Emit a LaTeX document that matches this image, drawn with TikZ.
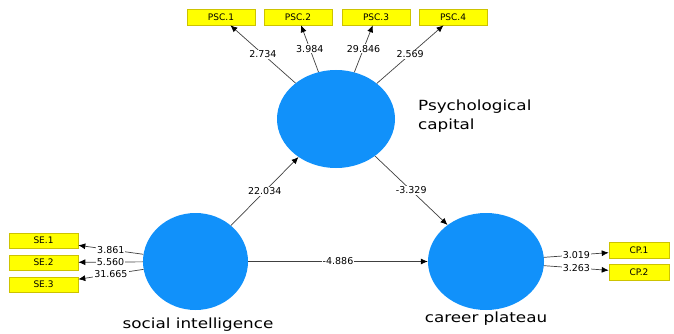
\documentclass[tikz,border=0pt]{standalone}
\usepackage{graphicx}
\usepackage{fontspec}
\setmainfont{DejaVu Sans}
\usetikzlibrary{positioning,arrows.meta,shapes.geometric}
\definecolor{lvblue}{RGB}{17,145,250}
\definecolor{mvyellow}{RGB}{255,255,0}
\definecolor{mvborder}{RGB}{205,195,0}
\newcommand{\widen}[1]{\scalebox{1.2}[1]{#1}}

\begin{document}
\begin{tikzpicture}[x=1pt,y=-1pt,on grid,
	lv/.style={ellipse,fill=lvblue,inner sep=0pt},
	mv/.style={rectangle,fill=mvyellow,draw=mvborder,line width=0.6pt,minimum width=68pt,minimum height=16pt,inner sep=0pt,font=\fontsize{9}{10}\selectfont},
	ld/.style={draw=black!75,line width=0.7pt,-{Latex[length=7pt,width=6pt,color=black]}},
	coef/.style={midway,fill=white,inner sep=1pt,font=\fontsize{9.5}{10}\selectfont},
	lvname/.style={inner sep=0pt,font=\fontsize{14}{19}\selectfont}]
	\useasboundingbox (0,0) rectangle (674,334);
	% latent variables
	\node[lv,minimum width=118pt,minimum height=98pt] (psc) at (336,119) {};
	\node[lv,minimum width=105pt,minimum height=97pt] (si) at (195.5,261.5) {};
	\node[lv,minimum width=116pt,minimum height=97pt] (cp) at (486,261.5) {};
	% indicators
	\node[mv] (psc1) at (221,17) {PSC.1};
	\node[mv] (psc2) [right=77pt of psc1] {PSC.2};
	\node[mv] (psc3) [right=78pt of psc2] {PSC.3};
	\node[mv] (psc4) [right=77pt of psc3] {PSC.4};
	\node[mv,minimum width=69pt,minimum height=15pt] (se1) at (43.5,240.5) {SE.1};
	\node[mv,minimum width=69pt,minimum height=15pt] (se2) [below=22pt of se1] {SE.2};
	\node[mv,minimum width=69pt,minimum height=15pt] (se3) [below=22pt of se2] {SE.3};
	\node[mv,minimum width=60pt] (cp1) at (639,250.5) {CP.1};
	\node[mv,minimum width=60pt] (cp2) [below=22pt of cp1] {CP.2};
	% names
	\node[lvname,anchor=north west] (pscname) at (418,97) {\widen{\begin{tabular}{@{}l@{}}Psychological\\capital\end{tabular}}};
	\node[lvname,anchor=base] (siname) at (198,328) {\widen{social intelligence}};
	\node[lvname,anchor=base] (cpname) at (486,322) {\widen{career plateau}};
	% loadings
	\draw[ld] (psc) -- node[coef] {2.734} (psc1);
	\draw[ld] (psc) -- node[coef] {3.984} (psc2);
	\draw[ld] (psc) -- node[coef] {29.846} (psc3);
	\draw[ld] (psc) -- node[coef] {2.569} (psc4);
	\draw[ld] (si) -- node[coef] {3.861} (se1);
	\draw[ld] (si) -- node[coef] {5.560} (se2);
	\draw[ld] (si) -- node[coef] {31.665} (se3);
	\draw[ld] (cp) -- node[coef] {3.019} (cp1);
	\draw[ld] (cp) -- node[coef] {3.263} (cp2);
	% inner model
	\draw[ld] (si) -- node[coef] {22.034} (psc);
	\draw[ld] (psc) -- node[coef] {-3.329} (cp);
	\draw[ld] (si) -- node[coef] {-4.886} (cp);
\end{tikzpicture}
\end{document}
